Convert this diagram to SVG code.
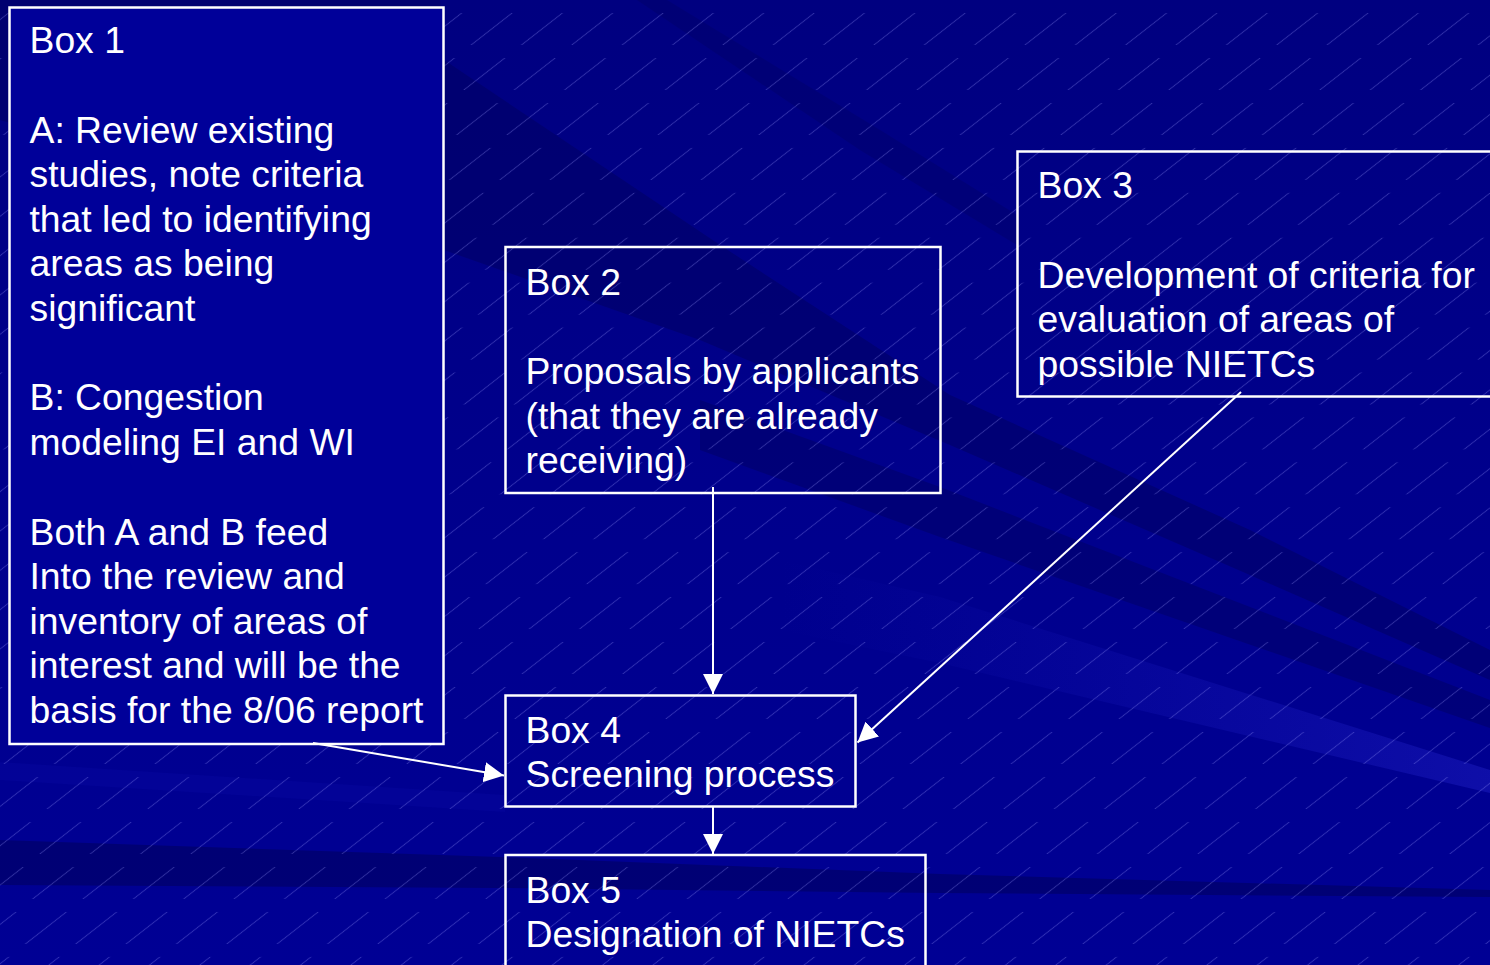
<svg xmlns="http://www.w3.org/2000/svg" width="1490" height="965" viewBox="0 0 1490 965">
<defs>
<linearGradient id="bg" x1="0" y1="0" x2="0" y2="1">
<stop offset="0" stop-color="#000080"/>
<stop offset="0.5" stop-color="#00008c"/>
<stop offset="1" stop-color="#000094"/>
</linearGradient>
<linearGradient id="ltg" x1="0" y1="0" x2="1" y2="0">
<stop offset="0" stop-color="#1010b0" stop-opacity="0"/>
<stop offset="1" stop-color="#1818b8" stop-opacity="0.6"/>
</linearGradient>
<pattern id="dash" patternUnits="userSpaceOnUse" width="73" height="31" patternTransform="rotate(-38) skewX(52)">
<line x1="0" y1="15.5" x2="52" y2="15.5" stroke="#a0a0ff" stroke-opacity="0.3" stroke-width="1"/>
</pattern>
<marker id="ah" markerUnits="userSpaceOnUse" markerWidth="20" markerHeight="20" refX="20" refY="10" orient="auto" viewBox="0 0 20 20">
<path d="M0,0 L20,10 L0,20 z" fill="#ffffff"/>
</marker>
<style>
.box{fill:none;stroke:#ffffff;stroke-width:2.5}
.t{font-family:"Liberation Sans",Arial,sans-serif;font-size:37.3px;fill:#ffffff}
.con{stroke:#ffffff;stroke-width:2;fill:none;marker-end:url(#ah)}
.dk{fill:#000060}
</style>
</defs>
<g id="background">
<rect x="0" y="0" width="1490" height="965" fill="url(#bg)"/>
<polygon class="dk" opacity="0.5" points="0,0 440,0 444,60 720,245 950,395 1250,530 1490,650 1490,680 1250,575 950,445 700,340 444,250 0,120"/>
<polygon class="dk" opacity="0.35" points="637,0 667,0 880,130 1017,215 1017,245 860,150"/>
<polygon class="dk" opacity="0.45" points="700,400 940,487 1490,700 1490,728 940,537 700,450"/>
<polygon fill="url(#ltg)" points="780,560 940,597 1490,770 1490,793 940,663 780,630"/>
<polygon fill="#1010b0" opacity="0.2" points="0,762 505,795 505,812 0,780"/>
<polygon class="dk" opacity="0.6" points="0,840 500,857 940,874 1490,890 1490,897 940,893 500,888 0,885"/>
<rect x="0" y="0" width="1490" height="965" fill="url(#dash)"/>
</g>
<g id="box1">
<rect x="9.5" y="7.5" width="434" height="736.5" fill="#000099" stroke="#ffffff" stroke-width="2.5"/>
<text class="t" x="29.5" y="53">Box 1</text>
<text class="t" x="29.5" y="142.5">A: Review existing</text>
<text class="t" x="29.5" y="187">studies, note criteria</text>
<text class="t" x="29.5" y="231.5">that led to identifying</text>
<text class="t" x="29.5" y="276">areas as being</text>
<text class="t" x="29.5" y="320.5">significant</text>
<text class="t" x="29.5" y="410">B: Congestion</text>
<text class="t" x="29.5" y="454.5">modeling EI and WI</text>
<text class="t" x="29.5" y="544.5">Both A and B feed</text>
<text class="t" x="29.5" y="589">Into the review and</text>
<text class="t" x="29.5" y="633.5">inventory of areas of</text>
<text class="t" x="29.5" y="678">interest and will be the</text>
<text class="t" x="29.5" y="722.5">basis for the 8/06 report</text>
</g>
<g id="box2">
<rect class="box" x="505.5" y="247" width="435" height="246"/>
<text class="t" x="525.5" y="295">Box 2</text>
<text class="t" x="525.5" y="384">Proposals by applicants</text>
<text class="t" x="525.5" y="428.5">(that they are already</text>
<text class="t" x="525.5" y="473">receiving)</text>
</g>
<g id="box3">
<rect class="box" x="1017.5" y="151.5" width="500" height="245"/>
<text class="t" x="1037.5" y="197.5">Box 3</text>
<text class="t" x="1037.5" y="287.5">Development of criteria for</text>
<text class="t" x="1037.5" y="332">evaluation of areas of</text>
<text class="t" x="1037.5" y="376.5">possible NIETCs</text>
</g>
<g id="box4">
<rect class="box" x="505.5" y="695.5" width="350" height="111"/>
<text class="t" x="525.5" y="743">Box 4</text>
<text class="t" x="525.5" y="787">Screening process</text>
</g>
<g id="box5">
<rect class="box" x="505.5" y="855" width="420" height="125"/>
<text class="t" x="525.5" y="902.5">Box 5</text>
<text class="t" x="525.5" y="947">Designation of NIETCs</text>
</g>
<g id="connectors">
<line class="con" x1="713" y1="487" x2="713" y2="694"/>
<line class="con" x1="713" y1="807" x2="713" y2="854"/>
<line class="con" x1="1241" y1="392" x2="857.5" y2="742.5"/>
<line class="con" x1="313" y1="743" x2="504" y2="775.5"/>
</g>
</svg>
